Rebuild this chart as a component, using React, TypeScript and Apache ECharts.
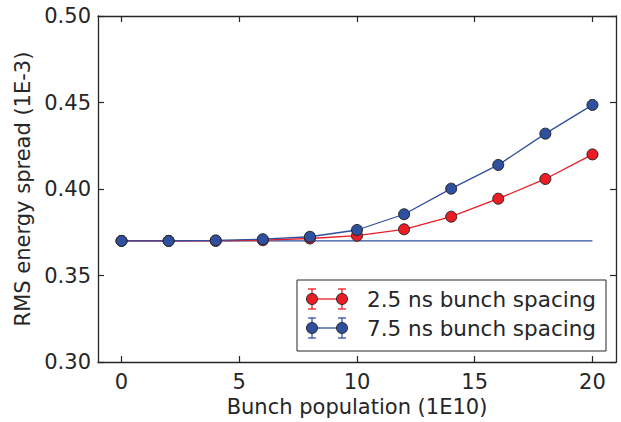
import React, { useEffect, useRef } from "react";
import * as echarts from "echarts";

const xValues = [0, 2, 4, 6, 8, 10, 12, 14, 16, 18, 20];
const spacing25 = [0.370, 0.370, 0.370, 0.3704, 0.3714, 0.373, 0.3767, 0.384, 0.3944, 0.4058, 0.42];
const spacing75 = [0.370, 0.370, 0.3703, 0.371, 0.3724, 0.3763, 0.3854, 0.4002, 0.4139, 0.432, 0.4486];
const baselineX = [0, 20];
const baselineValue = 0.37;
const xTicks = [0, 5, 10, 15, 20];
const seriesNames = ["2.5 ns bunch spacing", "7.5 ns bunch spacing"];

const RED = "#ec1c24";
const BLUE = "#2f4f9f";
const EDGE = "#262626";
const TEXT = "#262626";
const FONT = "DejaVu Sans";

function legendRow(y: number, color: string, label: string) {
  const x1 = 312;
  const x2 = 342;
  const items: any[] = [];
  items.push({ type: "line", z: 101, shape: { x1, y1: y, x2, y2: y }, style: { stroke: color, lineWidth: 1.3 } });
  [x1, x2].forEach((x) => {
    items.push({ type: "line", z: 101, shape: { x1: x, y1: y - 10, x2: x, y2: y + 10 }, style: { stroke: color, lineWidth: 1.3 } });
    items.push({ type: "line", z: 101, shape: { x1: x - 4, y1: y - 10, x2: x + 4, y2: y - 10 }, style: { stroke: color, lineWidth: 1.3 } });
    items.push({ type: "line", z: 101, shape: { x1: x - 4, y1: y + 10, x2: x + 4, y2: y + 10 }, style: { stroke: color, lineWidth: 1.3 } });
    items.push({ type: "circle", z: 102, shape: { cx: x, cy: y, r: 5.5 }, style: { fill: color, stroke: EDGE, lineWidth: 1 } });
  });
  items.push({
    type: "text",
    z: 101,
    x: 367,
    y,
    style: { text: label, fill: TEXT, fontFamily: FONT, fontSize: 21.5, verticalAlign: "middle", align: "left" },
  });
  return items;
}

export default function App() {
  const ref = useRef<HTMLDivElement>(null);
  useEffect(() => {
    if (!ref.current) return;
    const chart = echarts.init(ref.current, undefined, { renderer: "svg" });
    const axisLine = { show: true, onZero: false, lineStyle: { color: EDGE, width: 1.3 } };
    const tick = { show: true, inside: true, length: 6, lineStyle: { color: EDGE, width: 1.2 } };
    const labelStyle = { color: TEXT, fontFamily: FONT, fontSize: 21 };
    const option: any = {
      animation: false,
      backgroundColor: "#ffffff",
      grid: { left: 98, right: 5, top: 16, bottom: 60, containLabel: false, outerBoundsMode: "none" },
      xAxis: [
        {
          type: "value",
          min: -1,
          max: 21,
          position: "bottom",
          axisLine,
          axisTick: { ...tick, customValues: xTicks },
          axisLabel: { ...labelStyle, margin: 9, customValues: xTicks },
          splitLine: { show: false },
          name: "Bunch population (1E10)",
          nameLocation: "middle",
          nameGap: 33,
          nameTextStyle: labelStyle,
        },
        {
          type: "value",
          min: -1,
          max: 21,
          position: "top",
          axisLine,
          axisTick: { ...tick, customValues: xTicks },
          axisLabel: { show: false, customValues: xTicks },
          splitLine: { show: false },
        },
      ],
      yAxis: [
        {
          type: "value",
          min: 0.3,
          max: 0.5,
          interval: 0.05,
          position: "left",
          axisLine,
          axisTick: tick,
          axisLabel: { ...labelStyle, margin: 7, formatter: (v: number) => v.toFixed(2) },
          splitLine: { show: false },
          name: "RMS energy spread (1E-3)",
          nameLocation: "middle",
          nameGap: 65,
          nameTextStyle: labelStyle,
        },
        {
          type: "value",
          min: 0.3,
          max: 0.5,
          interval: 0.05,
          position: "right",
          axisLine,
          axisTick: tick,
          axisLabel: { show: false },
          splitLine: { show: false },
        },
      ],
      series: [
        {
          type: "line",
          name: "baseline",
          data: baselineX.map((x) => [x, baselineValue]),
          showSymbol: false,
          symbol: "none",
          lineStyle: { color: BLUE, width: 1.3 },
          silent: true,
        },
        {
          type: "line",
          name: seriesNames[0],
          data: xValues.map((x, i) => [x, spacing25[i]]),
          symbol: "circle",
          symbolSize: 11,
          itemStyle: { color: RED, borderColor: EDGE, borderWidth: 1 },
          lineStyle: { color: RED, width: 1.3 },
        },
        {
          type: "line",
          name: seriesNames[1],
          data: xValues.map((x, i) => [x, spacing75[i]]),
          symbol: "circle",
          symbolSize: 11,
          itemStyle: { color: BLUE, borderColor: EDGE, borderWidth: 1 },
          lineStyle: { color: BLUE, width: 1.3 },
        },
      ],
      graphic: [
        {
          type: "rect",
          z: 100,
          shape: { x: 297, y: 280, width: 309, height: 71 },
          style: { fill: "#ffffff", stroke: EDGE, lineWidth: 1 },
        },
        ...legendRow(299, RED, seriesNames[0]),
        ...legendRow(328, BLUE, seriesNames[1]),
      ],
    };
    chart.setOption(option);
    return () => chart.dispose();
  }, []);
  return <div ref={ref} style={{ position: "absolute", left: 0, top: 0, width: 621, height: 422 }} />;
}
